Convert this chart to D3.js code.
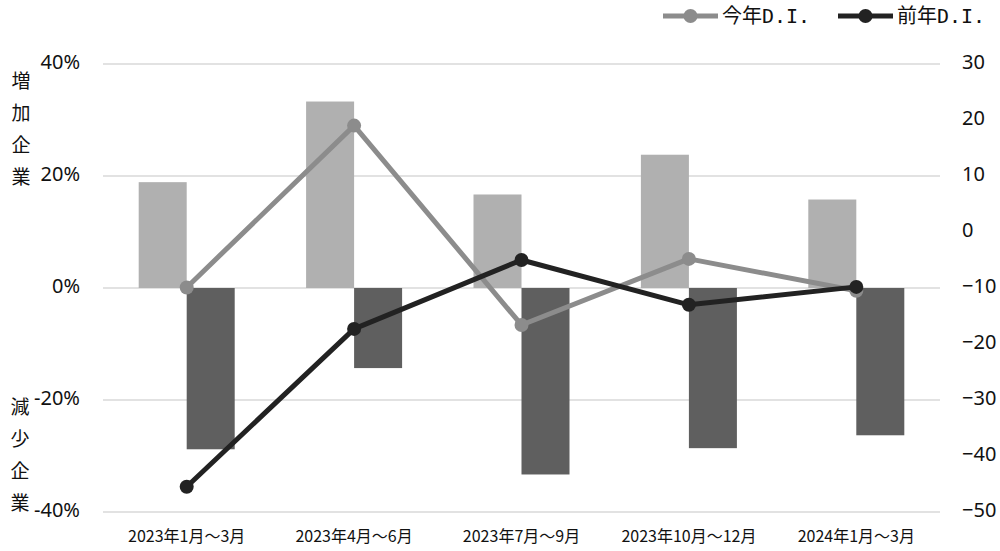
<!DOCTYPE html>
<html>
<head>
<meta charset="utf-8">
<script src="https://cdn.jsdelivr.net/npm/d3@7"></script>
<style>
  body { margin: 0; background: #fff; }
  text { font-family: "Noto Sans CJK JP", "DejaVu Sans Mono", sans-serif; fill: #111; }
</style>
</head>
<body>
<svg id="chart"></svg>
<script>
let width = 1000,
    height = 551;

// categories and values
let quarters = ['2023年1月～3月', '2023年4月～6月', '2023年7月～9月', '2023年10月～12月', '2024年1月～3月'];
let increase = [18.9, 33.3, 16.7, 23.8, 15.8];     // 増加企業 (%)
let decrease = [-28.8, -14.3, -33.3, -28.6, -26.3]; // 減少企業 (%)
let diThisYear = [-9.9, 19.0, -16.6, -4.8, -10.5];  // 今年D.I.
let diLastYear = [-45.5, -17.3, -5.0, -13.0, -9.8]; // 前年D.I.
let leftTicks = [40, 20, 0, -20, -40];
let rightTicks = [30, 20, 10, 0, -10, -20, -30, -40, -50];

let margin = {top: 64, right: 60, bottom: 39, left: 103};

let svg = d3.select('svg#chart')
    .attr('width', width)
    .attr('height', height);

let x = d3.scaleBand()
    .domain(quarters)
    .range([margin.left, width - margin.right]);

let yLeft = d3.scaleLinear()
    .domain([-40, 40])
    .range([height - margin.bottom, margin.top]);

let yRight = d3.scaleLinear()
    .domain([-50, 30])
    .range([height - margin.bottom, margin.top]);

// gridlines
svg.append('g')
    .selectAll('line')
    .data(leftTicks)
    .join('line')
    .attr('x1', margin.left)
    .attr('x2', width - margin.right)
    .attr('y1', d => yLeft(d))
    .attr('y2', d => yLeft(d))
    .attr('stroke', '#d9d9d9')
    .attr('stroke-width', 1.5);

// left axis
let leftAxis = svg.append('g')
    .attr('transform', `translate(${margin.left - 23},0)`)
    .call(d3.axisLeft(yLeft).tickValues(leftTicks).tickSize(0).tickFormat(d => d + '%'));
leftAxis.select('.domain').remove();
leftAxis.selectAll('text')
    .attr('x', 0)
    .attr('dy', '0.22em')
    .style('font-size', '20px')
    .style('font-family', '"Noto Sans", sans-serif')
    .attr('fill', '#111');

// right axis
let rightAxis = svg.append('g')
    .attr('transform', `translate(${width - margin.right + 22},0)`)
    .call(d3.axisRight(yRight).tickValues(rightTicks).tickSize(0).tickFormat(d => d < 0 ? '\u2212' + (-d) : d));
rightAxis.select('.domain').remove();
rightAxis.selectAll('text')
    .attr('x', 0)
    .attr('dy', '0.22em')
    .style('font-size', '20px')
    .style('font-family', '"Noto Sans", sans-serif')
    .attr('fill', '#111');

// x axis labels
let xAxis = svg.append('g')
    .attr('transform', `translate(0,${height - margin.bottom + 13})`)
    .call(d3.axisBottom(x).tickSize(0));
xAxis.select('.domain').remove();
xAxis.selectAll('text')
    .attr('dy', '0.9em')
    .style('font-size', '16px')
    .attr('fill', '#111');

// vertical axis titles
let titleUp = '増加企業'.split('');
let titleDown = '減少企業'.split('');
svg.append('g')
    .selectAll('text')
    .data(titleUp)
    .join('text')
    .attr('x', 21)
    .attr('y', (d, i) => 88 + i * 32)
    .attr('text-anchor', 'middle')
    .style('font-size', '19px')
    .text(d => d);
svg.append('g')
    .selectAll('text')
    .data(titleDown)
    .join('text')
    .attr('x', 20)
    .attr('y', (d, i) => 414 + i * 32)
    .attr('text-anchor', 'middle')
    .style('font-size', '19px')
    .text(d => d);

// bars
let barW = 48;
svg.append('g')
    .selectAll('rect')
    .data(increase)
    .join('rect')
    .attr('x', (d, i) => x(quarters[i]) + x.bandwidth() / 2 - barW)
    .attr('y', d => yLeft(d))
    .attr('width', barW)
    .attr('height', d => yLeft(0) - yLeft(d))
    .attr('fill', '#b0b0b0');
svg.append('g')
    .selectAll('rect')
    .data(decrease)
    .join('rect')
    .attr('x', (d, i) => x(quarters[i]) + x.bandwidth() / 2)
    .attr('y', yLeft(0))
    .attr('width', barW)
    .attr('height', d => yLeft(d) - yLeft(0))
    .attr('fill', '#5f5f5f');

// lines
let cx = (d, i) => x(quarters[i]) + x.bandwidth() / 2;
function drawLine(values, color) {
    let line = d3.line()
        .x((d, i) => cx(d, i))
        .y(d => yRight(d));
    svg.append('path')
        .datum(values)
        .attr('d', line)
        .attr('fill', 'none')
        .attr('stroke', color)
        .attr('stroke-width', 5)
        .attr('stroke-linejoin', 'round');
    svg.append('g')
        .selectAll('circle')
        .data(values)
        .join('circle')
        .attr('cx', (d, i) => cx(d, i))
        .attr('cy', d => yRight(d))
        .attr('r', 7)
        .attr('fill', color);
}
drawLine(diThisYear, '#8c8c8c');
drawLine(diLastYear, '#222222');

// legend
let legendItems = [
    {label: '今年D.I.', color: '#8c8c8c', x: 663},
    {label: '前年D.I.', color: '#222222', x: 838}
];
let legend = svg.append('g')
    .selectAll('g')
    .data(legendItems)
    .join('g')
    .attr('transform', d => `translate(${d.x},16)`);
legend.append('line')
    .attr('x1', 0)
    .attr('x2', 55)
    .attr('stroke', d => d.color)
    .attr('stroke-width', 5);
legend.append('circle')
    .attr('cx', 27.5)
    .attr('r', 7)
    .attr('fill', d => d.color);
legend.append('text')
    .attr('x', 59)
    .attr('y', 7)
    .style('font-size', '20px')
    .style('font-family', '"DejaVu Sans Mono", "Noto Sans CJK JP", monospace')
    .text(d => d.label);
</script>
</body>
</html>
